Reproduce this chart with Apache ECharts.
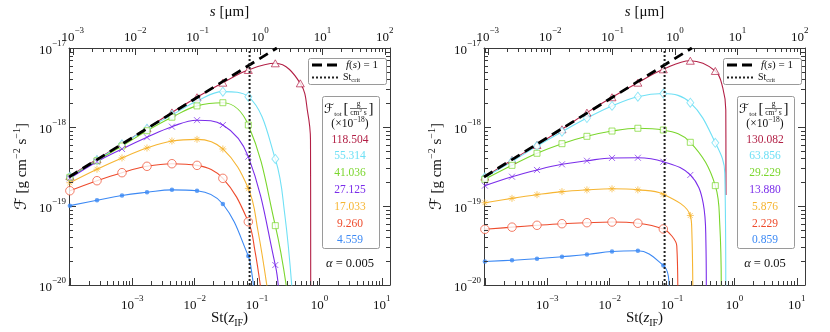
<!DOCTYPE html>
<html>
<head>
<meta charset="utf-8">
<script src="https://cdn.jsdelivr.net/npm/echarts@6/dist/echarts.min.js"></script>
<style>
html, body { margin: 0; padding: 0; background: #fff; }
#chart { width: 830px; height: 332px; }
</style>
</head>
<body>
<div id="chart"></div>
<script>
// axis ranges (St on the bottom, grain size s on top, flux on y)
const ST_RANGE = [9.68e-5, 13.5];
const S_RANGE = [8.7e-4, 121];
const F_RANGE = [1e-20, 1e-17];
const ST_CRIT = 0.0759;

// St where the markers sit
const ST_MARK = [1.0e-4, 2.72e-4, 6.84e-4, 1.72e-3, 4.32e-3, 1.09e-2, 2.83e-2, 7.24e-2, 0.196, 0.493];

// f(s) = 1 line
const F_UNITY = [[9.68e-5, 2.33e-19], [0.2075, 1e-17]];

// alpha = 0.005 (left)
const L_CRIMSON = [2.40e-19, 3.90e-19, 6.10e-19, 9.64e-19, 1.53e-18, 2.38e-18, 3.64e-18, 5.27e-18, 6.40e-18, 3.57e-18];
const L_CYAN    = [2.35e-19, 3.82e-19, 6.04e-19, 9.51e-19, 1.42e-18, 2.13e-18, 2.80e-18, 2.42e-18, 3.94e-19];
const L_GREEN   = [2.31e-19, 3.74e-19, 5.74e-19, 8.97e-19, 1.33e-18, 1.85e-18, 2.03e-18, 1.06e-18, 5.64e-20];
const L_PURPLE  = [2.24e-19, 3.64e-19, 5.27e-19, 7.41e-19, 1.01e-18, 1.22e-18, 1.06e-18, 4.21e-19, 1.79e-20];
const L_ORANGE  = [1.97e-19, 2.92e-19, 4.06e-19, 5.42e-19, 6.65e-19, 6.98e-19, 5.27e-19, 1.67e-19];
const L_RED     = [1.56e-19, 2.09e-19, 2.64e-19, 3.18e-19, 3.43e-19, 3.27e-19, 2.24e-19, 6.32e-20];
const L_BLUE    = [1.01e-19, 1.18e-19, 1.36e-19, 1.49e-19, 1.60e-19, 1.56e-19, 1.06e-19, 2.33e-20];
// where the curves fall off, past the last marker
const L_CRIMSON_TAIL = [[0.650, 1.50e-18], [0.718, 6.84e-19], [0.724, 8e-21]];
const L_CYAN_TAIL    = [[0.2786, 7.69e-20], [0.367, 8e-21]];
const L_GREEN_TAIL   = [[0.305, 8e-21]];
const L_PURPLE_TAIL  = [[0.2234, 8e-21]];
const L_ORANGE_TAIL  = [[0.1028, 4.97e-20], [0.149, 8e-21]];
const L_RED_TAIL     = [[0.0920, 2.77e-20], [0.117, 8e-21]];
const L_BLUE_TAIL    = [[0.0809, 1.55e-20], [0.0904, 8e-21]];
const L_TOTALS = ['118.504', '55.314', '41.036', '27.125', '17.033', '9.260', '4.559'];

// alpha = 0.05 (right)
const R_CRIMSON = [2.35e-19, 3.82e-19, 5.92e-19, 9.35e-19, 1.52e-18, 2.38e-18, 3.64e-18, 5.37e-18, 6.90e-18, 5.12e-18];
const R_CYAN    = [2.31e-19, 3.66e-19, 5.74e-19, 8.73e-19, 1.30e-18, 1.85e-18, 2.42e-18, 2.65e-18, 2.03e-18, 6.31e-19];
const R_GREEN   = [2.18e-19, 3.27e-19, 4.65e-19, 6.15e-19, 7.62e-19, 8.89e-19, 9.64e-19, 9.16e-19, 6.40e-19, 1.81e-19];
const R_PURPLE  = [1.81e-19, 2.35e-19, 2.86e-19, 3.37e-19, 3.74e-19, 4.06e-19, 4.08e-19, 3.64e-19, 2.47e-19];
const R_ORANGE  = [1.10e-19, 1.25e-19, 1.39e-19, 1.52e-19, 1.60e-19, 1.65e-19, 1.60e-19, 1.41e-19, 7.59e-20];
const R_RED     = [5.07e-20, 5.40e-20, 5.70e-20, 5.97e-20, 6.15e-20, 6.27e-20, 6.05e-20, 5.12e-20];
const R_BLUE    = [1.98e-20, 2.06e-20, 2.15e-20, 2.28e-20, 2.43e-20, 2.65e-20, 2.71e-20, 1.77e-20];
const R_CRIMSON_TAIL = [[0.650, 3.12e-18], [0.726, 1.64e-18], [0.731, 1.38e-19]];
const R_CYAN_TAIL    = [[0.700, 2.62e-19], [0.726, 8e-21]];
const R_GREEN_TAIL   = [[0.582, 5.74e-20], [0.615, 8e-21]];
const R_PURPLE_TAIL  = [[0.315, 1.09e-19], [0.348, 3.72e-20], [0.354, 8e-21]];
const R_ORANGE_TAIL  = [[0.2075, 4.69e-20], [0.2153, 8e-21]];
const R_RED_TAIL     = [[0.0991, 4.17e-20], [0.119, 3.12e-20], [0.1236, 8e-21]];
const R_BLUE_TAIL    = [[0.0871, 1.3e-20], [0.0904, 8e-21]];
const R_TOTALS = ['130.082', '63.856', '29.229', '13.880', '5.876', '2.229', '0.859'];

const ALPHAS = ['0.005', '0.05'];

const PANELS = [
    { marks: [L_CRIMSON, L_CYAN, L_GREEN, L_PURPLE, L_ORANGE, L_RED, L_BLUE],
      tails: [L_CRIMSON_TAIL, L_CYAN_TAIL, L_GREEN_TAIL, L_PURPLE_TAIL, L_ORANGE_TAIL, L_RED_TAIL, L_BLUE_TAIL],
      totals: L_TOTALS, alpha: ALPHAS[0] },
    { marks: [R_CRIMSON, R_CYAN, R_GREEN, R_PURPLE, R_ORANGE, R_RED, R_BLUE],
      tails: [R_CRIMSON_TAIL, R_CYAN_TAIL, R_GREEN_TAIL, R_PURPLE_TAIL, R_ORANGE_TAIL, R_RED_TAIL, R_BLUE_TAIL],
      totals: R_TOTALS, alpha: ALPHAS[1] }
];

// styles
const lg = Math.log10;
const FONT = '"Liberation Serif", "DejaVu Serif", serif';
const CAL = '"DejaVu Serif", "DejaVu Sans", "Noto Sans", serif';
const INK = '#111';
const AX = '#3a3a3a';
const COLORS = ['#B21F45', '#6FE0F5', '#7AD62C', '#7A2DEA', '#F6B532', '#EE4B2C', '#3C89F4'];
const SYMBOLS = ['triangle', 'diamond', 'rect',
    'path://M0,0L10,10M10,0L0,10',
    'path://M5,0L5,10M0,5L10,5M1.5,1.5L8.5,8.5M1.5,8.5L8.5,1.5',
    'circle', 'circle'];
const HOLLOW = [true, true, true, false, false, true, false];
const SIZES = [[8, 7], [7, 9], 6, 6, 7, 8.5, 4.5];
const GRID_X = [69, 484];

function tok(size, extra) {
    return Object.assign({ fontFamily: FONT, fontSize: size, color: INK }, extra || {});
}
const TICK_RICH = {
    b: tok(13, { lineHeight: 18, verticalAlign: 'bottom' }),
    e: tok(9, { lineHeight: 10, verticalAlign: 'top' })
};
function decadeLabel(lo) {
    return function (v) {
        const r = Math.round(v);
        if (Math.abs(v - r) > 1e-6 || r < lo) return '';
        return '{b|10}{e|' + (r < 0 ? '\u2212' + (-r) : String(r)) + '}';
    };
}
const axisBase = {
    type: 'value',
    splitNumber: 5,
    nameMoveOverlap: false,
    axisLine: { onZero: false, lineStyle: { color: AX, width: 1 } },
    axisTick: { inside: true, length: 7, lineStyle: { color: AX, width: 1 } },
    splitLine: { show: false }
};

function minorTicks(lo, hi) {
    const out = [];
    for (let d = Math.floor(lo) - 1; d <= Math.ceil(hi); d++) {
        for (let k = 2; k <= 9; k++) {
            const v = d + lg(k);
            if (v > lo + 1e-6 && v < hi - 1e-6) out.push(v);
        }
    }
    return out;
}

function tickSeries(xi, yi, vals, side) {
    return {
        type: 'custom', xAxisIndex: xi, yAxisIndex: yi, silent: true, z: 6,
        data: vals.map(v => side === 'y' ? [-1, v] : [v, -19]),
        renderItem: function (params, api) {
            const cs = params.coordSys;
            const p = api.coord([api.value(0), api.value(1)]);
            const st = { stroke: AX, lineWidth: 1 };
            if (side === 'y') {
                const y = Math.round(p[1]) + 0.5;
                return { type: 'group', children: [
                    { type: 'line', shape: { x1: cs.x, y1: y, x2: cs.x + 4, y2: y }, style: st },
                    { type: 'line', shape: { x1: cs.x + cs.width, y1: y, x2: cs.x + cs.width - 4, y2: y }, style: st }
                ] };
            }
            const x = Math.round(p[0]) + 0.5;
            const y0 = side === 'bottom' ? cs.y + cs.height : cs.y;
            const dir = side === 'bottom' ? -1 : 1;
            return { type: 'line', shape: { x1: x, y1: y0, x2: x, y2: y0 + dir * 4 }, style: st };
        }
    };
}

function gRich(size, extra) {
    return Object.assign({ fontFamily: FONT, fontSize: size, fill: INK }, extra || {});
}
function gText(ox, x, y, text, o) {
    return {
        type: 'text', x: ox + x, y: y, z: 100, silent: true,
        style: Object.assign({ text: text, fill: INK, fontFamily: FONT, fontSize: 11,
            align: 'center', verticalAlign: 'middle' }, o || {})
    };
}

function legendEls(ox, totals, alpha) {
    const els = [
        { type: 'rect', z: 99, silent: true, shape: { x: ox + 308.5, y: 58.5, width: 78, height: 26, r: 2 },
          style: { fill: '#fff', stroke: '#9a9a9a', lineWidth: 1 } },
        { type: 'line', z: 100, silent: true, shape: { x1: ox + 312, y1: 65, x2: ox + 338, y2: 65 },
          style: { stroke: '#000', lineWidth: 2.8, lineDash: [10, 5] } },
        gText(ox, 362, 65, '{i|f}({i|s}) = 1', { fontSize: 11, rich: { i: gRich(11, { fontStyle: 'italic' }) } }),
        { type: 'line', z: 100, silent: true, shape: { x1: ox + 312, y1: 77.5, x2: ox + 340, y2: 77.5 },
          style: { stroke: '#222', lineWidth: 2, lineDash: [2, 2] } },
        gText(ox, 343, 77.5, 'St{s|crit}', { align: 'left', fontSize: 10, lineHeight: 13,
            rich: { s: gRich(6.5, { lineHeight: 7, verticalAlign: 'bottom' }) } }),
        { type: 'rect', z: 99, silent: true, shape: { x: ox + 322.5, y: 96.5, width: 57, height: 152, r: 2 },
          style: { fill: '#fff', stroke: '#9a9a9a', lineWidth: 1 } },
        gText(ox, 324, 110, '{F|\u2131}{t|tot}', { align: 'left', lineHeight: 16,
            rich: { F: gRich(13, { fontFamily: CAL, lineHeight: 16 }), t: gRich(7, { lineHeight: 9, verticalAlign: 'bottom' }) } }),
        gText(ox, 346, 109.5, '[', { fontSize: 15 }),
        gText(ox, 358.5, 104, 'g', { fontSize: 7.5 }),
        { type: 'line', z: 100, silent: true, shape: { x1: ox + 350, y1: 108.5, x2: ox + 367, y2: 108.5 },
          style: { stroke: INK, lineWidth: 0.6 } },
        gText(ox, 358.5, 113.5, 'cm{p|2} s', { fontSize: 7.5, lineHeight: 10,
            rich: { p: gRich(5, { lineHeight: 6, verticalAlign: 'top' }) } }),
        gText(ox, 371, 109.5, ']', { fontSize: 15 }),
        gText(ox, 350, 123.5, '(\u00d710{p|\u221218})', { fontSize: 11.5, lineHeight: 15,
            rich: { p: gRich(7.5, { lineHeight: 8, verticalAlign: 'top' }) } }),
        gText(ox, 350, 264, '{a|\u03b1} = ' + alpha, { fontSize: 12.5,
            rich: { a: gRich(12.5, { fontStyle: 'italic' }) } })
    ];
    totals.forEach(function (t, i) {
        els.push(gText(ox, 350, 139.5 + 16.8 * i, t, { fill: COLORS[i], fontSize: 11.5 }));
    });
    return els;
}

const grid = [], xAxis = [], yAxis = [], series = [], graphic = [];

PANELS.forEach(function (p, gi) {
    grid.push({ left: GRID_X[gi], top: 48, width: 321, height: 237,
        containLabel: false, outerBoundsMode: 'none' });
    const xi = 2 * gi, yi = 2 * gi;

    xAxis.push(Object.assign({}, axisBase, {
        gridIndex: gi, position: 'bottom', min: lg(ST_RANGE[0]), max: lg(ST_RANGE[1]),
        axisLabel: { margin: 9, formatter: decadeLabel(-3), rich: TICK_RICH },
        name: 'St({i|z}{s|IF})', nameLocation: 'middle', nameGap: 23,
        nameTextStyle: tok(15, { lineHeight: 20, rich: {
            i: tok(15, { fontStyle: 'italic', lineHeight: 20 }),
            s: tok(10, { lineHeight: 12, verticalAlign: 'bottom' }) } })
    }));
    xAxis.push(Object.assign({}, axisBase, {
        gridIndex: gi, position: 'top', min: lg(S_RANGE[0]), max: lg(S_RANGE[1]),
        axisLabel: { margin: 4, formatter: decadeLabel(-3), rich: TICK_RICH },
        name: '{i|s} [\u03bcm]', nameLocation: 'middle', nameGap: 28,
        nameTextStyle: tok(15, { rich: { i: tok(15, { fontStyle: 'italic' }) } })
    }));
    yAxis.push(Object.assign({}, axisBase, {
        gridIndex: gi, position: 'left', min: lg(F_RANGE[0]), max: lg(F_RANGE[1]), interval: 1,
        axisLabel: { margin: 3, formatter: decadeLabel(-20), rich: TICK_RICH },
        name: '{F|\u2131} [g cm{p|\u22122} s{p|\u22121}]', nameLocation: 'middle', nameGap: 37, nameRotate: 90,
        nameTextStyle: tok(15, { lineHeight: 20, rich: {
            F: tok(16, { fontFamily: CAL, lineHeight: 20 }),
            p: tok(10, { lineHeight: 10, verticalAlign: 'top' }) } })
    }));
    yAxis.push(Object.assign({}, axisBase, {
        gridIndex: gi, position: 'right', min: lg(F_RANGE[0]), max: lg(F_RANGE[1]), interval: 1,
        axisLabel: { show: false }
    }));

    p.marks.forEach(function (F, ci) {
        const marks = F.map((f, i) => [lg(ST_MARK[i]), lg(f)]);
        const tail = p.tails[ci].map(d => [lg(d[0]), lg(d[1])]);
        series.push({
            type: 'line', xAxisIndex: xi, yAxisIndex: yi, data: marks.concat(tail),
            showSymbol: false, symbol: 'none', smooth: 0.4,
            lineStyle: { color: COLORS[ci], width: 1.1 }, silent: true, z: 2
        });
        const path = SYMBOLS[ci].indexOf('path://') === 0;
        let itemStyle;
        if (path) itemStyle = { color: COLORS[ci], borderColor: COLORS[ci], borderWidth: 0.9 };
        else if (HOLLOW[ci]) itemStyle = { color: '#fff', borderColor: COLORS[ci], borderWidth: 0.9 };
        else itemStyle = { color: COLORS[ci], borderWidth: 0 };
        series.push({
            type: 'scatter', xAxisIndex: xi, yAxisIndex: yi, data: marks,
            symbol: SYMBOLS[ci], symbolSize: SIZES[ci], silent: true, z: 3,
            itemStyle: itemStyle
        });
    });

    series.push({
        type: 'line', xAxisIndex: xi, yAxisIndex: yi, silent: true, z: 4,
        data: F_UNITY.map(d => [lg(d[0]), lg(d[1])]), symbol: 'none',
        lineStyle: { color: '#000', width: 2.8, type: [10, 6] }
    });
    series.push({
        type: 'line', xAxisIndex: xi, yAxisIndex: yi, silent: true, z: 4,
        data: [[lg(ST_CRIT), lg(F_RANGE[0])], [lg(ST_CRIT), lg(F_RANGE[1])]], symbol: 'none',
        lineStyle: { color: '#222', width: 2, type: [2, 2] }
    });

    series.push(tickSeries(xi, yi, minorTicks(lg(ST_RANGE[0]), lg(ST_RANGE[1])), 'bottom'));
    series.push(tickSeries(xi + 1, yi, minorTicks(lg(S_RANGE[0]), lg(S_RANGE[1])), 'top'));
    series.push(tickSeries(xi, yi, minorTicks(lg(F_RANGE[0]), lg(F_RANGE[1])), 'y'));

    legendEls(GRID_X[gi] - 69, p.totals, p.alpha).forEach(e => graphic.push(e));
});

const chart = echarts.init(document.getElementById('chart'), null, { renderer: 'canvas' });
chart.setOption({
    backgroundColor: '#fff',
    animation: false,
    grid: grid,
    xAxis: xAxis,
    yAxis: yAxis,
    series: series,
    graphic: graphic
});
</script>
</body>
</html>
